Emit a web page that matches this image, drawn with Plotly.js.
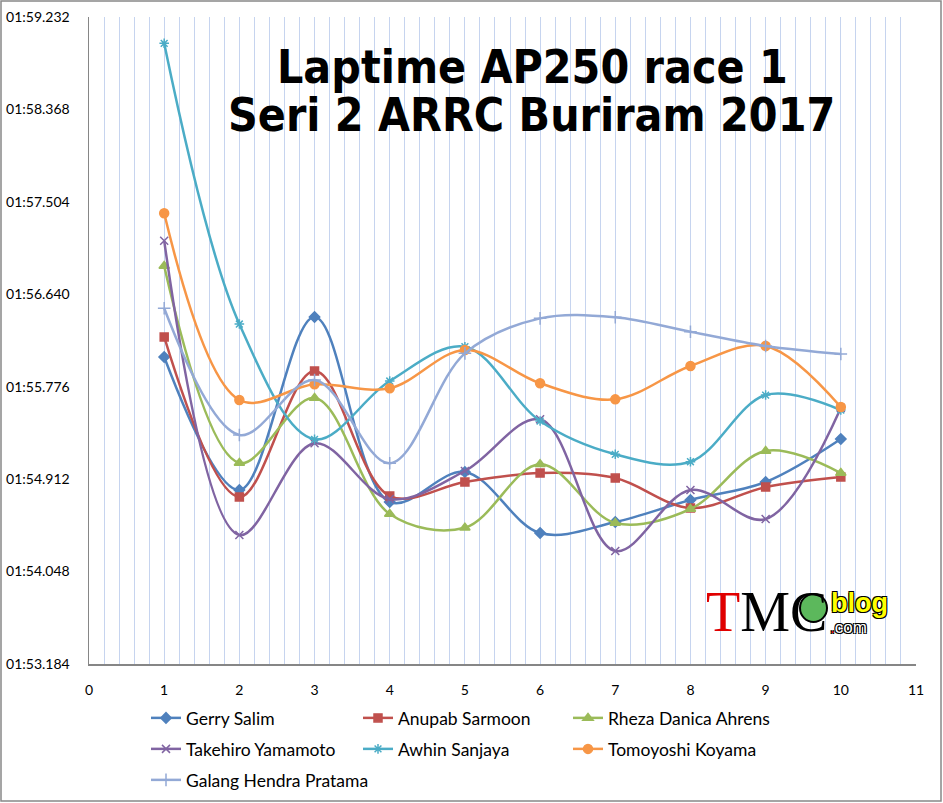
<!DOCTYPE html>
<html>
<head>
<meta charset="utf-8">
<script src="https://cdn.plot.ly/plotly-3.0.1.min.js"></script>
<style>
  body { margin: 0; background: #fff; }
  #chart { width: 943px; height: 803px; }
</style>
</head>
<body>
<div id="chart"></div>
<script>
// lap numbers and lap times (seconds past 1:00)
var laps = [1, 2, 3, 4, 5, 6, 7, 8, 9, 10];

var gerry     = [116.054, 114.810, 116.428, 114.698, 114.979, 114.408, 114.511, 114.717, 114.885, 115.287];
var anupab    = [116.241, 114.745, 115.923, 114.754, 114.885, 114.969, 114.922, 114.642, 114.838, 114.932];
var rheza     = [116.904, 115.063, 115.670, 114.586, 114.458, 115.051, 114.502, 114.633, 115.175, 114.969];
var takehiro  = [117.141, 114.390, 115.247, 114.726, 114.988, 115.471, 114.240, 114.810, 114.539, 115.577];
var awhin     = [118.986, 116.362, 115.284, 115.829, 116.150, 115.455, 115.144, 115.075, 115.698, 115.558];
var tomoyoshi = [117.397, 115.652, 115.798, 115.761, 116.119, 115.808, 115.658, 115.970, 116.157, 115.586];
var galang    = [116.509, 115.325, 115.839, 115.060, 116.088, 116.415, 116.425, 116.290, 116.157, 116.082];

var yTickVals = [113.184, 114.048, 114.912, 115.776, 116.640, 117.504, 118.368, 119.232];
var yTickText = ['01:53.184', '01:54.048', '01:54.912', '01:55.776', '01:56.640', '01:57.504', '01:58.368', '01:59.232'];
var xTickVals = [0, 1, 2, 3, 4, 5, 6, 7, 8, 9, 10, 11];

// plot area in pixels, used only for placing decorations
var L = 89, T = 17, W = 827, H = 647;
function px(x) { return (x - L) / W; }
function py(y) { return (T + H - y) / H; }

function series(name, y, color, symbol, size, legend) {
  return {
    type: 'scatter',
    mode: 'lines+markers',
    name: name,
    x: laps,
    y: y,
    line: { color: color, width: 2.5, shape: 'spline', smoothing: 1 },
    marker: { symbol: symbol, size: size, color: color, line: { color: color, width: 1.5 } },
    legend: legend
  };
}

var data = [
  series('Gerry Salim', gerry, '#4F81BD', 'diamond', 8, 'legend'),
  series('Anupab Sarmoon', anupab, '#C0504D', 'square', 8, 'legend2'),
  series('Rheza Danica Ahrens', rheza, '#9BBB59', 'triangle-up', 9, 'legend3'),
  series('Takehiro Yamamoto', takehiro, '#8064A2', 'x-thin-open', 8, 'legend4'),
  series('Awhin Sanjaya', awhin, '#4BACC6', 'asterisk-open', 8, 'legend5'),
  series('Tomoyoshi Koyama', tomoyoshi, '#F79646', 'circle', 9, 'legend6'),
  series('Galang Hendra Pratama', galang, '#93A9D6', 'cross-thin-open', 9, 'legend7')
];

// one legend per entry so the grid matches the reference
function legendAt(x, y) {
  return {
    orientation: 'v',
    x: px(x), xanchor: 'left',
    y: py(y), yanchor: 'middle',
    itemwidth: 30,
    font: { family: 'Lato, sans-serif', size: 17.5, color: '#000' },
    bgcolor: 'rgba(0,0,0,0)'
  };
}
var colX = [146, 358, 568];
var rowY = [718, 749, 780];

var outline = '-1px -1px 0 #000, 1px -1px 0 #000, -1px 1px 0 #000, 1px 1px 0 #000';
var titleFont = { family: '"DejaVu Sans Condensed", "DejaVu Sans", sans-serif', size: 46, color: '#000' };

var layout = {
  width: 943,
  height: 803,
  margin: { l: L, r: 943 - L - W, t: T, b: 803 - T - H, autoexpand: false },
  paper_bgcolor: '#fff',
  plot_bgcolor: '#fff',
  showlegend: true,
  legend: legendAt(colX[0], rowY[0]),
  legend2: legendAt(colX[1], rowY[0]),
  legend3: legendAt(colX[2], rowY[0]),
  legend4: legendAt(colX[0], rowY[1]),
  legend5: legendAt(colX[1], rowY[1]),
  legend6: legendAt(colX[2], rowY[1]),
  legend7: legendAt(colX[0], rowY[2]),
  xaxis: {
    range: [0, 11],
    tickvals: xTickVals,
    showgrid: true,
    gridcolor: '#C6D4EF',
    gridwidth: 1,
    minor: { dtick: 0.2, showgrid: true, gridcolor: '#C6D4EF', gridwidth: 1 },
    zeroline: false,
    showline: true,
    linecolor: '#868686',
    linewidth: 1.5,
    ticks: '',
    ticklabelstandoff: 13,
    tickfont: { family: 'Lato, sans-serif', size: 14, color: '#000' }
  },
  yaxis: {
    range: [113.184, 119.232],
    tickvals: yTickVals,
    ticktext: yTickText,
    showgrid: false,
    zeroline: false,
    showline: true,
    linecolor: '#868686',
    linewidth: 1.5,
    ticks: '',
    ticklabelstandoff: 15,
    tickfont: { family: 'Lato, sans-serif', size: 14, color: '#000' }
  },
  annotations: [
    {
      xref: 'paper', yref: 'paper', x: px(532), y: py(67),
      xanchor: 'center', yanchor: 'middle', showarrow: false,
      text: '<b>Laptime AP250 race 1</b>', font: titleFont
    },
    {
      xref: 'paper', yref: 'paper', x: px(531), y: py(115),
      xanchor: 'center', yanchor: 'middle', showarrow: false,
      text: '<b>Seri 2 ARRC Buriram 2017</b>', font: titleFont
    },
    // TMC blog logo
    {
      xref: 'paper', yref: 'paper', x: px(704), y: py(612),
      xanchor: 'left', yanchor: 'middle', showarrow: false,
      text: '<span style="color:#E00000">T</span>MC',
      font: { family: '"Liberation Serif", serif', size: 56, color: '#000' }
    },
    {
      xref: 'paper', yref: 'paper', x: px(829), y: py(603),
      xanchor: 'left', yanchor: 'middle', showarrow: false,
      text: '<b>blog</b>',
      font: { family: '"Liberation Sans", sans-serif', size: 27, color: '#FFFF00', shadow: outline }
    },
    {
      xref: 'paper', yref: 'paper', x: px(828), y: py(627),
      xanchor: 'left', yanchor: 'middle', showarrow: false,
      text: '<span style="color:#E00000">.</span>com',
      font: { family: '"Liberation Sans", sans-serif', size: 17, color: '#FFFFFF', shadow: outline }
    }
  ],
  shapes: [
    {
      type: 'circle', xref: 'paper', yref: 'paper', layer: 'above',
      x0: px(800), x1: px(827), y0: py(622), y1: py(594),
      fillcolor: '#5CB85C', line: { color: '#000', width: 2 }
    },
    {
      type: 'rect', xref: 'paper', yref: 'paper', layer: 'below',
      x0: px(1), x1: px(941), y0: py(801), y1: py(1),
      line: { color: '#888888', width: 1.5 }
    }
  ]
};

Plotly.newPlot('chart', data, layout, { displayModeBar: false, staticPlot: true });
</script>
</body>
</html>
